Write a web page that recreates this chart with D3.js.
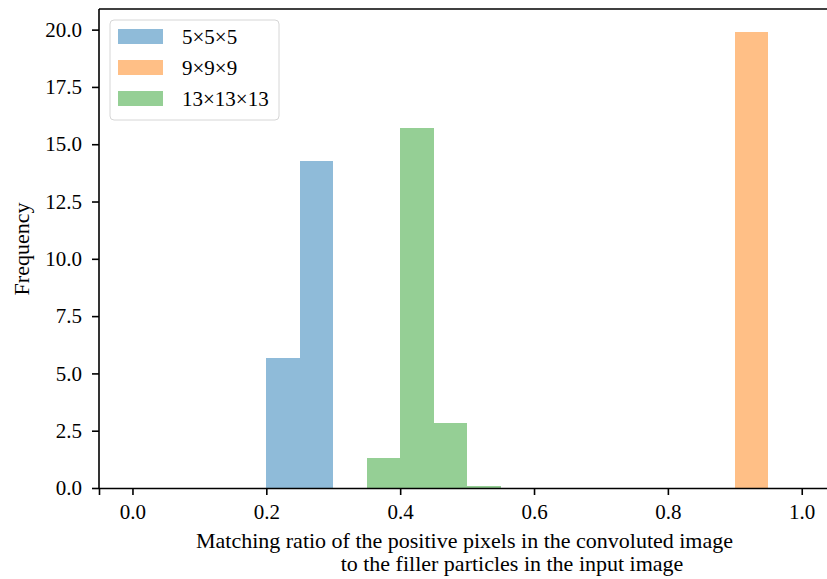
<!DOCTYPE html>
<html>
<head>
<meta charset="utf-8">
<script src="https://cdn.jsdelivr.net/npm/d3@7"></script>
<style>
body { margin: 0; background: #fff; }
svg text { font-family: "Liberation Serif", "DejaVu Serif", serif; }
</style>
</head>
<body>
<script>
// histogram bins (width 0.05) and the frequency in each
let series = ['5×5×5', '9×9×9', '13×13×13']
let blueFreq = [{x0: 0.20, v: 5.68}, {x0: 0.25, v: 14.27}]
let orangeFreq = [{x0: 0.90, v: 19.9}]
let greenFreq = [{x0: 0.35, v: 1.32}, {x0: 0.40, v: 15.7}, {x0: 0.45, v: 2.85}, {x0: 0.50, v: 0.07}]
let binWidth = 0.05
let xTicks = [0.0, 0.2, 0.4, 0.6, 0.8, 1.0]
let yTicks = [0, 2.5, 5, 7.5, 10, 12.5, 15, 17.5, 20]

let colors = ['#8fbbd9', '#ffbf86', '#95cf95']

let width = 827, height = 579
let margin = {top: 9, bottom: 91, left: 99}

let svg = d3.select('body').append('svg').attr('width', width).attr('height', height)

let xScale = d3.scaleLinear().domain([-0.05, 1.05]).range([margin.left, 835.2])
let yScale = d3.scaleLinear().domain([0, 20.9]).range([height - margin.bottom, margin.top])

// bars
let groups = [blueFreq, orangeFreq, greenFreq]
groups.forEach((g, i) => {
  svg.append('g').selectAll('rect').data(g).enter()
    .append('rect')
    .attr('x', d => xScale(d.x0)).attr('y', d => yScale(d.v))
    .attr('width', d => xScale(d.x0 + binWidth) - xScale(d.x0))
    .attr('height', d => yScale(0) - yScale(d.v))
    .attr('fill', colors[i])
    .attr('shape-rendering', 'crispEdges')
})

// axes
let xAxis = svg.append('g').attr('transform', `translate(0,${yScale(0)})`)
  .call(d3.axisBottom(xScale).tickValues(xTicks).tickFormat(d3.format('.1f')).tickSizeOuter(0).tickSize(7).tickPadding(9))
let yAxis = svg.append('g').attr('transform', `translate(${margin.left},0)`)
  .call(d3.axisLeft(yScale).tickValues(yTicks).tickFormat(d3.format('.1f')).tickSizeOuter(0).tickSize(7).tickPadding(10))

svg.selectAll('.tick text').style('font-size', '21px').attr('fill', '#000')
svg.selectAll('.domain, .tick line').attr('stroke', '#000').attr('stroke-width', 1.6)
yAxis.select('.domain').attr('d', `M0,${yScale(20.9)}V${yScale(0)}`)

// top and right spines
svg.append('line').attr('x1', margin.left).attr('x2', xScale(1.05))
  .attr('y1', yScale(20.9)).attr('y2', yScale(20.9)).attr('stroke', '#000').attr('stroke-width', 1.6)
svg.append('line').attr('x1', xScale(1.05)).attr('x2', xScale(1.05))
  .attr('y1', yScale(20.9)).attr('y2', yScale(0)).attr('stroke', '#000').attr('stroke-width', 1.6)

// axis labels
svg.append('text').attr('x', 464.5).attr('y', 548).text('Matching ratio of the positive pixels in the convoluted image')
  .style('text-anchor', 'middle').style('font-size', '22px')
svg.append('text').attr('x', 512).attr('y', 571).text('to the filler particles in the input image')
  .style('text-anchor', 'middle').style('font-size', '22px')
svg.append('text').attr('transform', 'translate(29,249) rotate(-90)').text('Frequency')
  .style('text-anchor', 'middle').style('font-size', '22px')

// legend
let legend = svg.append('g')
legend.append('rect').attr('x', 110).attr('y', 20).attr('width', 169).attr('height', 100)
  .attr('rx', 4).attr('fill', 'white').attr('fill-opacity', 0.8).attr('stroke', '#d6d6d6')
series.forEach((s, i) => {
  legend.append('rect').attr('x', 118).attr('y', 29 + i * 31).attr('width', 45).attr('height', 15)
    .attr('fill', colors[i])
  legend.append('text').attr('x', 182).attr('y', 44 + i * 31).text(s).style('font-size', '21px')
})
</script>
</body>
</html>
